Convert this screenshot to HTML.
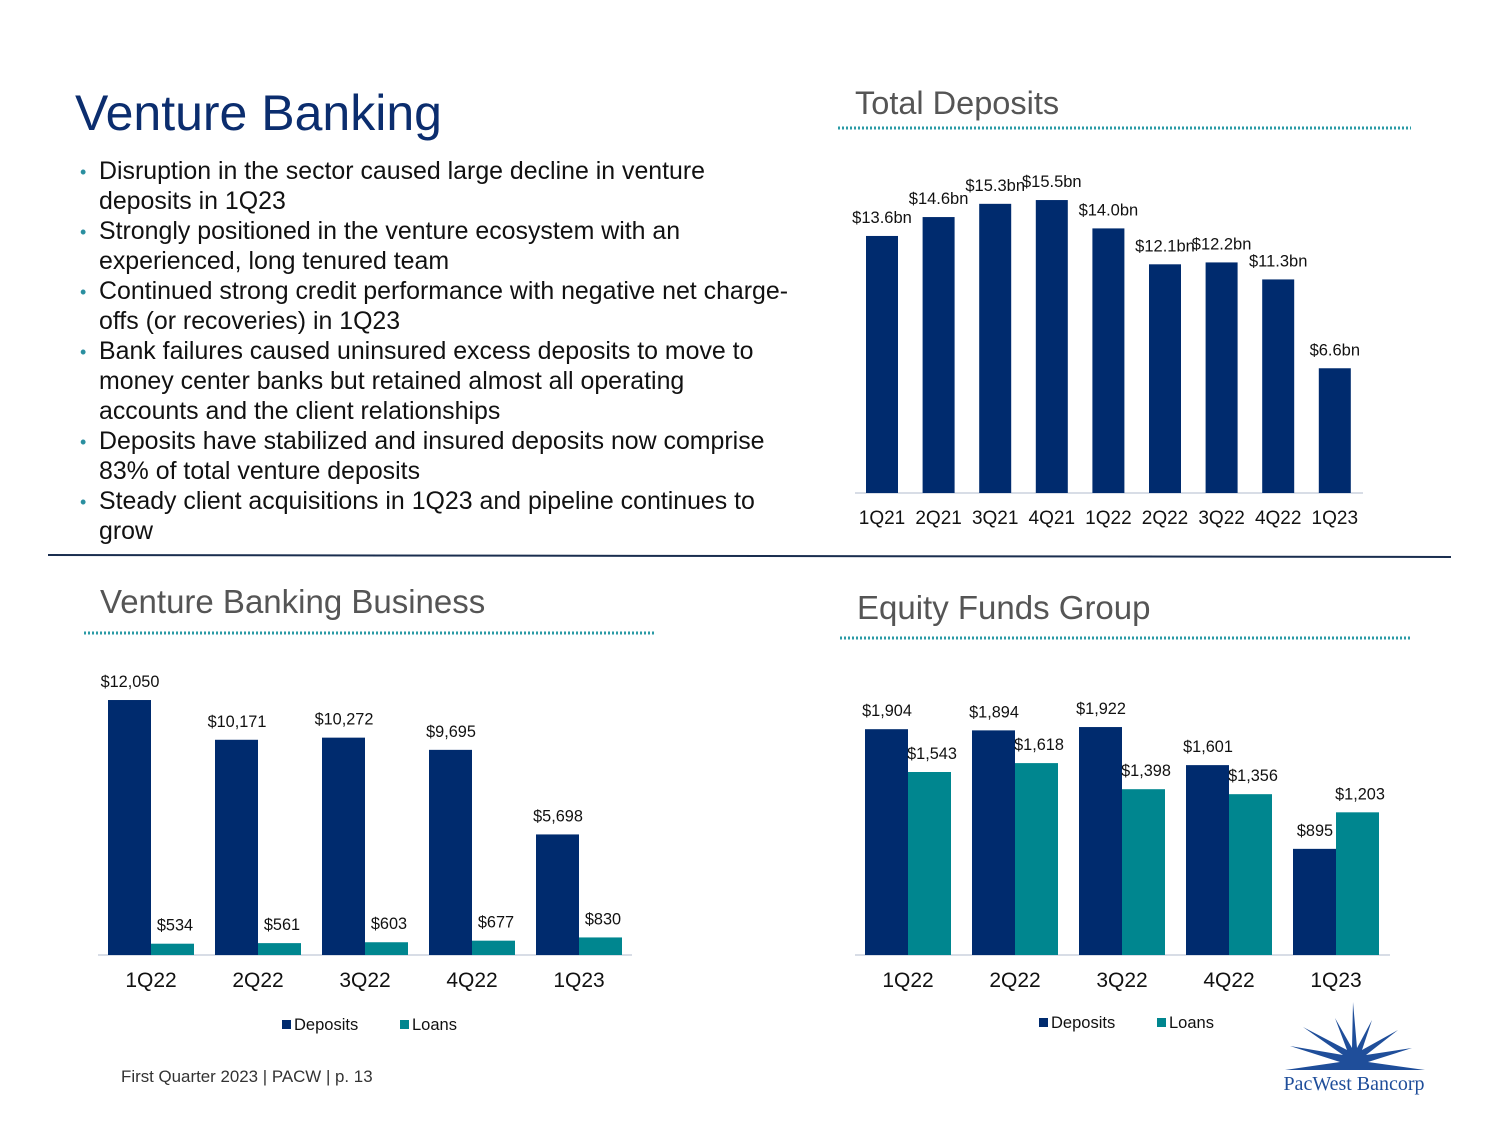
<!DOCTYPE html>
<html><head><meta charset="utf-8"><style>
body{margin:0;background:#fff;}
svg{display:block;font-family:"Liberation Sans",Arial,sans-serif;}
</style></head><body>
<svg id="s" width="1500" height="1125" viewBox="0 0 1500 1125">
<text x="75" y="130" font-size="50" fill="#0b2d6e">Venture Banking</text>
<g font-size="24.9" fill="#111">
<text x="80" y="178" fill="#2a8fa0" font-size="18">•</text><text x="99" y="179">Disruption in the sector caused large decline in venture</text>
<text x="99" y="209">deposits in 1Q23</text>
<text x="80" y="238" fill="#2a8fa0" font-size="18">•</text><text x="99" y="239">Strongly positioned in the venture ecosystem with an</text>
<text x="99" y="269">experienced, long tenured team</text>
<text x="80" y="298" fill="#2a8fa0" font-size="18">•</text><text x="99" y="299">Continued strong credit performance with negative net charge-</text>
<text x="99" y="329">offs (or recoveries) in 1Q23</text>
<text x="80" y="358" fill="#2a8fa0" font-size="18">•</text><text x="99" y="359">Bank failures caused uninsured excess deposits to move to</text>
<text x="99" y="389">money center banks but retained almost all operating</text>
<text x="99" y="419">accounts and the client relationships</text>
<text x="80" y="448" fill="#2a8fa0" font-size="18">•</text><text x="99" y="449">Deposits have stabilized and insured deposits now comprise</text>
<text x="99" y="479">83% of total venture deposits</text>
<text x="80" y="508" fill="#2a8fa0" font-size="18">•</text><text x="99" y="509">Steady client acquisitions in 1Q23 and pipeline continues to</text>
<text x="99" y="539">grow</text>
</g>
<line x1="48" y1="555" x2="1451" y2="557" stroke="#1a2e4f" stroke-width="2"/>
<text x="855" y="114" font-size="32.5" fill="#555">Total Deposits</text>
<line x1="838" y1="128" x2="1411" y2="128" stroke="#2a9aa5" stroke-width="3" stroke-dasharray="2,2"/>
<text x="100" y="613" font-size="33" fill="#555">Venture Banking Business</text>
<line x1="84" y1="633" x2="656" y2="633" stroke="#2a9aa5" stroke-width="3" stroke-dasharray="2,2"/>
<text x="857" y="619" font-size="33" fill="#555">Equity Funds Group</text>
<line x1="840" y1="638" x2="1412" y2="638" stroke="#2a9aa5" stroke-width="3" stroke-dasharray="2,2"/>
<g id="c1"></g>
<g id="c2"></g>
<g id="c3"></g>
<text x="121" y="1082" font-size="16.9" fill="#333">First Quarter 2023 | PACW | p. 13</text>
<g>
<path d="M1285,1070 L1340,1062 L1290,1046 L1343,1055 L1303,1027 L1347,1050 L1335,1018 L1352,1048 L1353,1002 L1357,1048 L1372,1020 L1362,1050 L1398,1030 L1366,1055 L1412,1048 L1368,1062 L1425,1070 Z" fill="#1f4e9a"/>
<text x="1354" y="1090" font-size="20" font-family="Liberation Serif,serif" fill="#1f4e9a" text-anchor="middle">PacWest Bancorp</text>
</g>
</svg>
<script>
const tdCats=["1Q21","2Q21","3Q21","4Q21","1Q22","2Q22","3Q22","4Q22","1Q23"];
const tdVals=[13.6,14.6,15.3,15.5,14.0,12.1,12.2,11.3,6.6];
const vbCats=["1Q22","2Q22","3Q22","4Q22","1Q23"];
const vbDeposits=[12050,10171,10272,9695,5698];
const vbLoans=[534,561,603,677,830];
const efCats=["1Q22","2Q22","3Q22","4Q22","1Q23"];
const efDeposits=[1904,1894,1922,1601,895];
const efLoans=[1543,1618,1398,1356,1203];
const NS="http://www.w3.org/2000/svg";
function mk(p,t,a,txt){const e=document.createElementNS(NS,t);for(const k in a)e.setAttribute(k,a[k]);if(txt!==undefined)e.textContent=txt;p.appendChild(e);return e;}
const fmt=v=>"$"+v.toLocaleString("en-US");
(function(){const g=document.getElementById('c1');const base=493,k=18.9;const x=i=>882+i*56.6;
mk(g,'line',{x1:855,y1:base,x2:1363,y2:base,stroke:'#d8dde6','stroke-width':2});
tdVals.forEach((v,i)=>{const h=v*k;
const r=mk(g,'rect',{x:x(i)-16,y:base-h,width:32,height:h,fill:'#002b6e'});


const t=mk(g,'text',{x:x(i),y:base-h-13,'font-size':16.5,fill:'#111','text-anchor':'middle'},'$'+v.toFixed(1)+'bn');


const c=mk(g,'text',{x:x(i),y:524,'font-size':19,fill:'#111','text-anchor':'middle'},tdCats[i]);

});})();
function grouped(id,cats,dep,loan,k,x0,axL,axR,legY,legX){const g=document.getElementById(id);const base=955;const x=i=>x0+i*107;
mk(g,'line',{x1:axL,y1:base,x2:axR,y2:base,stroke:'#d8dde6','stroke-width':2});
cats.forEach((c,i)=>{const hd=dep[i]*k,hl=loan[i]*k;
const a=mk(g,'rect',{x:x(i)-43,y:base-hd,width:43,height:hd,fill:'#002b6e'});


const b=mk(g,'rect',{x:x(i),y:base-hl,width:43,height:hl,fill:'#00868f'});


const t1=mk(g,'text',{x:x(i)-21,y:base-hd-13,'font-size':16.3,fill:'#111','text-anchor':'middle'},fmt(dep[i]));


const t2=mk(g,'text',{x:x(i)+24,y:base-hl-13,'font-size':16.3,fill:'#111','text-anchor':'middle'},fmt(loan[i]));


const tc=mk(g,'text',{x:x(i),y:987,'font-size':21,fill:'#111','text-anchor':'middle'},c);

});
const l=mk(g,'g',{});


mk(l,'rect',{x:legX,y:legY-10,width:9,height:9,fill:'#002b6e'});
mk(l,'text',{x:legX+12,y:legY,'font-size':16.5,fill:'#111'},'Deposits');
mk(l,'rect',{x:legX+118,y:legY-10,width:9,height:9,fill:'#00868f'});
mk(l,'text',{x:legX+130,y:legY,'font-size':16.5,fill:'#111'},'Loans');}
grouped('c2',vbCats,vbDeposits,vbLoans,0.02116,151,98,632,1030,282);
grouped('c3',efCats,efDeposits,efLoans,0.1186,908,855,1390,1028,1039);
</script>
</body></html>
